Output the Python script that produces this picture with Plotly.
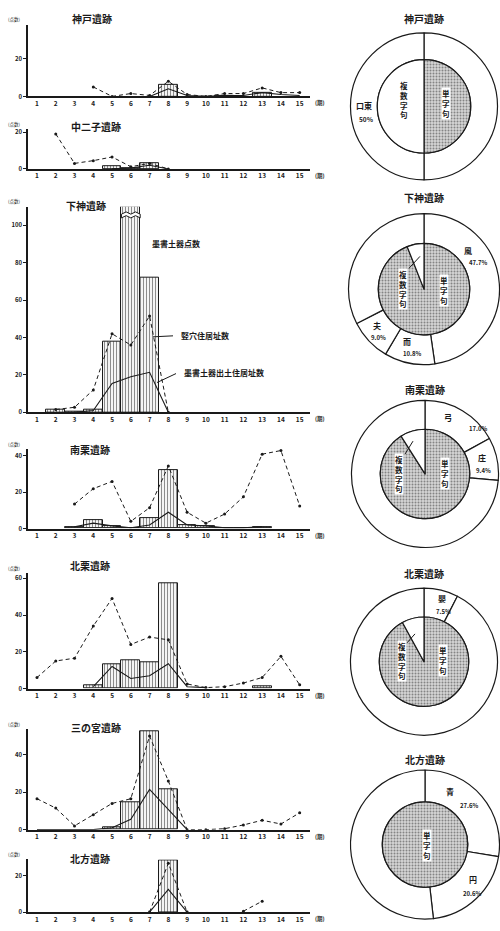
"""Ink-inscribed pottery counts per period at seven sites, with character share donuts."""

import plotly.graph_objects as go

FONT = "Noto Sans CJK JP"
INK = "#1a1a1a"
W, H = 500, 931

periods = list(range(1, 16))

# --- left column: 墨書土器点数 (bars), 竪穴住居址数 (dashed), 墨書土器出土住居址数 (solid)
kobe_sherds = [None, None, None, None, None, None, None, 6, None, None, 0.5, None, 2, None, None]
kobe_pits = [None, None, None, 5, 0, 1.5, 0.5, 8, 1, 0, 1.5, 1.5, 4.5, 2, 2]
kobe_inked = [None, None, None, None, None, None, 0, 4, 0.5, 0, 0.5, 0.5, 2, 1, 0.5]

nakafutago_sherds = [None, None, None, None, 1.5, 0.5, 3, None, None, None, None, None, None, None, None]
nakafutago_pits = [None, 19, 3, 4.5, 6.5, 1.2, 3, 0, None, None, None, None, None, None, None]
nakafutago_inked = [None, None, None, None, 0, 0.5, 2, 0, None, None, None, None, None, None, None]

shimogami_sherds = [None, 1.5, 0.5, 1.5, 38, 110, 72, None, None, None, None, None, None, None, None]
shimogami_pits = [None, 1.5, 2.7, 12, 42, 36, 51.5, 0, None, None, None, None, None, None, None]
shimogami_inked = [None, None, 0, 1, 15.4, 19, 21.4, 0, None, None, None, None, None, None, None]

minamiguri_sherds = [None, None, 1, 4.5, 1.5, 0.5, 6, 32, 2, 1.5, 0.5, 0.5, 1, None, None]
minamiguri_pits = [None, None, 13.5, 22, 26, 4, 11.5, 34.5, 9, 3, 8, 17.5, 41, 43, 12.5]
minamiguri_inked = [None, None, 1, 3, 1.5, 0.5, 2, 9, 2, 1.5, 0.5, 0.5, 1, None, None]

kitaguri_sherds = [None, None, None, 2, 13, 15.5, 14.5, 57.5, None, None, None, None, 1.5, None, None]
kitaguri_pits = [6, 15, 16.5, 34, 49, 24, 28, 26.5, 2.5, 0.5, 1, 3, 6, 17.5, 2]
kitaguri_inked = [None, None, None, 1, 12, 5.5, 7, 13.5, 1, 0.5, None, None, None, None, None]

sannomiya_sherds = [None, None, None, None, 1, 14.5, 52.5, 21.5, None, None, None, None, None, None, None]
sannomiya_pits = [16.5, 11.5, 2, 8, 14, 16.5, 50, 26, 0, 0, 0.5, 2.5, 5, 3, 9]
sannomiya_inked = [0, 0, 0, 0, 1, 5.5, 21.5, 11, 0, None, None, None, None, None, None]

kitakata_sherds = [None, None, None, None, None, None, None, 28.5, None, None, None, None, None, None, None]
kitakata_pits = [None, None, None, None, None, None, 0, 27, 0, None, None, 0.5, 6, None, None]
kitakata_inked = [None, None, None, None, None, None, 0, 12.5, 0, None, None, None, None, None, None]

site_names = ["神戸遺跡", "中二子遺跡", "下神遺跡", "南栗遺跡", "北栗遺跡", "三の宮遺跡", "北方遺跡"]
site_series = [
    (kobe_sherds, kobe_pits, kobe_inked),
    (nakafutago_sherds, nakafutago_pits, nakafutago_inked),
    (shimogami_sherds, shimogami_pits, shimogami_inked),
    (minamiguri_sherds, minamiguri_pits, minamiguri_inked),
    (kitaguri_sherds, kitaguri_pits, kitaguri_inked),
    (sannomiya_sherds, sannomiya_pits, sannomiya_inked),
    (kitakata_sherds, kitakata_pits, kitakata_inked),
]
site_ymax = [37.9, 21.6, 110, 43.8, 62.7, 53.6, 29.1]

# --- right column: 単字句 / 複数字句 (inner), most frequent characters (outer ring)
donut_names = ["神戸遺跡", "下神遺跡", "南栗遺跡", "北栗遺跡", "北方遺跡"]
inner_labels = [["単字句", "複数字句"]] * 4 + [["単字句"]]
inner_values = [[50, 50], [94, 6], [91, 9], [92, 8], [100]]
outer_labels = [
    ["他", "口東"],
    ["風", "而", "夫", "他"],
    ["弓", "庄", "他"],
    ["嬰", "他"],
    ["青", "円", "他"],
]
outer_values = [
    [50, 50],
    [47.7, 10.8, 9.0, 32.5],
    [17.0, 9.4, 73.6],
    [7.5, 92.5],
    [27.6, 20.6, 51.8],
]


def fx(x):
    return min(max(x / W, 0), 1)


def fy(y):
    return min(max(1 - y / H, 0), 1)


def note(text, x, y, size, bold=True, bg=None):
    return dict(
        x=fx(x), y=fy(y), xref="paper", yref="paper", xanchor="center", yanchor="middle",
        text=text, showarrow=False, bgcolor=bg, borderpad=0,
        font=dict(family=FONT, size=size, color=INK, weight="bold" if bold else "normal"),
    )


# pixel geometry of the left panels: (axis top, zero line)
panel_px = [(23, 95), (128, 168), (206, 413), (450, 530), (575, 691), (732, 833), (863, 916)]
title_px = [(92, 17), (96, 125), (86, 205), (90, 450), (90, 567), (96, 730), (90, 862)]

fig = go.Figure()
annotations = []
shapes = []

for i, ((top, zero), (sherds, pits, inked)) in enumerate(zip(panel_px, site_series)):
    n = "" if i == 0 else str(i + 1)
    xa, ya = "x" + n, "y" + n
    fig.add_trace(
        go.Bar(
            x=periods, y=sherds, width=1, xaxis=xa, yaxis=ya,
            marker=dict(
                color="white",
                line=dict(color=INK, width=1),
                pattern=dict(shape="|", size=3, solidity=0.4, fgcolor=INK, fillmode="overlay"),
            ),
            showlegend=False,
        )
    )
    fig.add_trace(
        go.Scatter(
            x=periods, y=pits, xaxis=xa, yaxis=ya, mode="lines+markers",
            line=dict(color=INK, width=1, dash="4px,3px"), marker=dict(size=3, color=INK),
            connectgaps=False, showlegend=False,
        )
    )
    fig.add_trace(
        go.Scatter(
            x=periods, y=inked, xaxis=xa, yaxis=ya, mode="lines",
            line=dict(color=INK, width=1.1), connectgaps=False, showlegend=False,
        )
    )
    fig.layout["xaxis" + n] = dict(
        domain=[fx(28), fx(310)], range=[0.52, 15.55], anchor=ya,
        tickmode="array", tickvals=periods, ticks="", showgrid=False, zeroline=False,
        showline=True, linecolor=INK, linewidth=1.5,
        tickfont=dict(family=FONT, size=6.5, color=INK, weight="bold"),
    )
    fig.layout["yaxis" + n] = dict(
        domain=[fy(zero), fy(top)], range=[0, site_ymax[i]], anchor=xa,
        dtick=20, ticks="outside", ticklen=3, tickwidth=1, tickcolor=INK,
        showgrid=False, zeroline=False, showline=True, linecolor=INK, linewidth=1.5,
        tickfont=dict(family=FONT, size=6, color=INK, weight="bold"),
    )
    tx, ty = title_px[i]
    annotations.append(note(site_names[i], tx, ty, 10))
    annotations.append(note("(点数)", 14, top - 5, 4.5, bold=False))
    annotations.append(note("(期)", 320, zero + 7, 5.5))

# break mark on the clipped 下神 period-6 bar
shapes.append(dict(
    type="path", xref="x3", yref="y3",
    path="M5.5,104 L5.75,105.2 L6,104 L6.25,105.2 L6.5,104 L6.5,106 L6.25,107.2 L6,106 L5.75,107.2 L5.5,106 Z",
    fillcolor="white", line=dict(color=INK, width=1),
))

# series labels inside the 下神 panel
annotations.append(note("墨書土器点数", 176, 243, 8))
annotations.append(note("竪穴住居址数", 205, 336, 8))
annotations.append(note("墨書土器出土住居址数", 224, 373, 8))
shapes.append(dict(type="line", xref="paper", yref="paper", x0=fx(153), y0=fy(337), x1=fx(173), y1=fy(336),
                   line=dict(color=INK, width=1)))
shapes.append(dict(type="line", xref="paper", yref="paper", x0=fx(157), y0=fy(383), x1=fx(176), y1=fy(374),
                   line=dict(color=INK, width=1)))

# donuts: centre, outer radius, inner radius, title y (pixels)
donut_px = [(424, 105, 74, 47, 17), (424, 289, 76, 46, 197), (425, 475, 74, 45, 390),
            (424, 664, 74, 45, 575), (425, 848, 75, 43, 762)]

for k, (cx, cy, ro, ri, ty) in enumerate(donut_px):
    fig.add_trace(go.Pie(
        labels=outer_labels[k], values=outer_values[k], hole=ri / ro,
        domain=dict(x=[fx(cx - ro), fx(cx + ro)], y=[fy(cy + ro), fy(cy - ro)]),
        sort=False, direction="clockwise", rotation=0, textinfo="none",
        marker=dict(colors=["white"] * len(outer_values[k]), line=dict(color=INK, width=1.2)),
        showlegend=False,
    ))
    n_in = len(inner_values[k])
    fig.add_trace(go.Pie(
        labels=inner_labels[k], values=inner_values[k],
        domain=dict(x=[fx(cx - ri), fx(cx + ri)], y=[fy(cy + ri), fy(cy - ri)]),
        sort=False, direction="clockwise", rotation=0, textinfo="none",
        marker=dict(
            colors=["#d4d4d4", "white"][:n_in],
            line=dict(color=INK, width=1.2),
            pattern=dict(shape=[".", ""][:n_in], size=3, solidity=0.35, fgcolor="#333", fillmode="overlay"),
        ),
        showlegend=False,
    ))
    annotations.append(note(donut_names[k], cx, ty, 10))


def vlabel(text, x, y, bg=None):
    annotations.append(note("<br>".join(text), x, y, 7.5, bg=bg))


def hlabel(text, x, y, size=7):
    annotations.append(note(text, x, y, size))


# 神戸
vlabel("複数字句", 404, 99)
vlabel("単字句", 446, 102, bg="white")
hlabel("口東", 364, 104, size=8)
hlabel("50%", 366, 118, size=6.5)
# 下神
vlabel("複数字句", 403, 289, bg="white")
vlabel("単字句", 444, 290, bg="white")
hlabel("風", 468, 250, size=8)
hlabel("47.7%", 478, 262, size=6)
hlabel("而", 407, 342, size=8)
hlabel("10.8%", 412, 354, size=6)
hlabel("夫", 377, 326, size=8)
hlabel("9.0%", 378, 338, size=6)
# 南栗
vlabel("複数字句", 399, 475, bg="white")
vlabel("単字句", 445, 475, bg="white")
hlabel("弓", 448, 418, size=8)
hlabel("17.0%", 478, 429, size=6)
hlabel("庄", 482, 458, size=8)
hlabel("9.4%", 483, 472, size=6)
# 北栗
vlabel("複数字句", 402, 663, bg="white")
vlabel("単字句", 443, 663, bg="white")
hlabel("嬰", 442, 600, size=8)
hlabel("7.5%", 443, 613, size=6)
# 北方
vlabel("単字句", 427, 849, bg="white")
hlabel("青", 450, 795, size=8)
hlabel("27.6%", 469, 809, size=6)
hlabel("円", 473, 883, size=8)
hlabel("20.6%", 472, 897, size=6)

# leader lines from the 複数字句 labels to their wedges
for x0, y0, x1, y1 in [(409, 268, 420, 256), (405, 455, 413, 442), (407, 645, 415, 636)]:
    shapes.append(dict(type="line", xref="paper", yref="paper", x0=fx(x0), y0=fy(y0), x1=fx(x1), y1=fy(y1),
                       line=dict(color=INK, width=1)))

fig.update_layout(
    width=W, height=H, autosize=False,
    margin=dict(l=0, r=0, t=0, b=0),
    paper_bgcolor="white", plot_bgcolor="white",
    bargap=0, barmode="overlay",
    annotations=annotations, shapes=shapes,
    font=dict(family=FONT, color=INK),
)

fig.write_html(
    "out.html",
    config={"displayModeBar": False},
    post_script="document.body.style.margin='0';document.body.style.overflow='hidden';",
)
